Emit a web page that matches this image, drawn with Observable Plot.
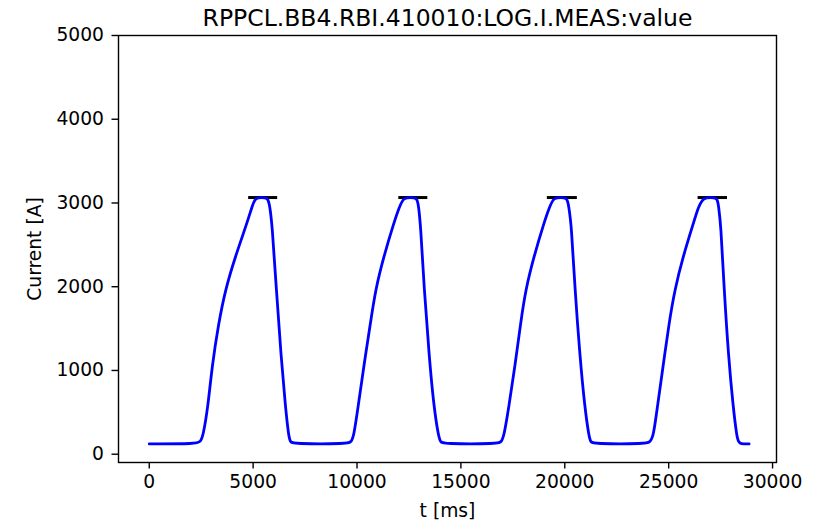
<!DOCTYPE html>
<html>
<head>
<meta charset="utf-8">
<script src="https://cdn.jsdelivr.net/npm/d3@7"></script>
<script src="https://cdn.jsdelivr.net/npm/@observablehq/plot@0.6"></script>
<style>
  html, body { margin: 0; padding: 0; background: white; }
  svg { display: block; }
</style>
</head>
<body>
<div id="chart"></div>
<script>
const chartTitle = "RPPCL.BB4.RBI.410010:LOG.I.MEAS:value";
const xLabel = "t [ms]";
const yLabel = "Current [A]";

const timeMs = [
  0, 2298, 2457, 2587, 2828, 3020, 3339, 3661, 4143, 4706, 4948, 5107, 5410, 5718, 5800, 5911, 6118, 6345, 6552, 6711, 6793, 6875,
  9602, 9716, 9843, 10054, 10324, 10647, 10888, 11288, 11770, 12044, 12252, 12575, 12897, 12960, 13056, 13233, 13474, 13697, 13923, 14020, 14101,
  16829, 16944, 17069, 17310, 17599, 17874, 18114, 18515, 18996, 19271, 19478, 19800, 20123, 20186, 20315, 20490, 20731, 20957, 21164, 21246, 21325,
  23977, 24103, 24266, 24459, 24729, 25018, 25293, 25693, 26194, 26434, 26675, 27010, 27350, 27398, 27509, 27670, 27880, 28102, 28279, 28360, 28440, 28872
];
const currentA = [
  123, 123, 151, 210, 569, 1047, 1565, 1963, 2361, 2760, 2958, 3065, 3065, 3065, 2958, 2760, 1963, 1166, 569, 210, 151, 123,
  123, 151, 210, 569, 1047, 1565, 1963, 2361, 2760, 2958, 3065, 3065, 3065, 2958, 2760, 1963, 1166, 569, 210, 151, 123,
  123, 151, 210, 569, 1047, 1565, 1963, 2361, 2760, 2958, 3065, 3065, 3065, 2958, 2760, 1963, 1166, 569, 210, 151, 123,
  123, 151, 210, 569, 1047, 1565, 1963, 2361, 2760, 2958, 3065, 3065, 3065, 2958, 2760, 1963, 1166, 569, 210, 151, 123, 123
];

// Black reference segments at the flat top
const refStart = [4784, 12011, 19160, 26415];
const refEnd = [6181, 13408, 20605, 27832];
const refLevel = [3065, 3065, 3065, 3065];

const xTicks = [0, 5000, 10000, 15000, 20000, 25000, 30000];
const yTicks = [0, 1000, 2000, 3000, 4000, 5000];

const series = timeMs.map((t, i) => ({t, I: currentA[i]}));
const refs = refStart.map((s, i) => ({start: s, end: refEnd[i], level: refLevel[i]}));

const chart = Plot.plot({
  width: 825,
  height: 526,
  marginLeft: 118,
  marginRight: 49,
  marginTop: 35,
  marginBottom: 64,
  x: {domain: [-1480, 30190]},
  y: {domain: [-99, 5000]},
  style: {fontFamily: "DejaVu Sans", fontSize: "18.7px", color: "black", background: "white"},
  marks: [
    Plot.ruleY(refs, {y: "level", x1: "start", x2: "end", stroke: "black", strokeWidth: 3}),
    Plot.line(series, {x: "t", y: "I", stroke: "#0000ff", strokeWidth: 2.8, curve: "basis"}),
    Plot.frame({stroke: "black", strokeWidth: 1.4}),
    Plot.axisX({ticks: xTicks, tickSize: 6.5, tickPadding: 6, label: null, tickFormat: d => String(d), strokeWidth: 1.4}),
    Plot.axisY({ticks: yTicks, tickSize: 6.5, tickPadding: 8, label: null, tickFormat: d => String(d), strokeWidth: 1.4}),
    Plot.text([chartTitle], {text: d => d, frameAnchor: "top", lineAnchor: "bottom", dy: -10, fontSize: 23.5}),
    Plot.text([xLabel], {text: d => d, frameAnchor: "bottom", lineAnchor: "top", dy: 41}),
    Plot.text([yLabel], {text: d => d, frameAnchor: "left", rotate: -90, dx: -83, textAnchor: "middle", lineAnchor: "middle"})
  ]
});
document.getElementById("chart").appendChild(chart);
</script>
</body>
</html>
